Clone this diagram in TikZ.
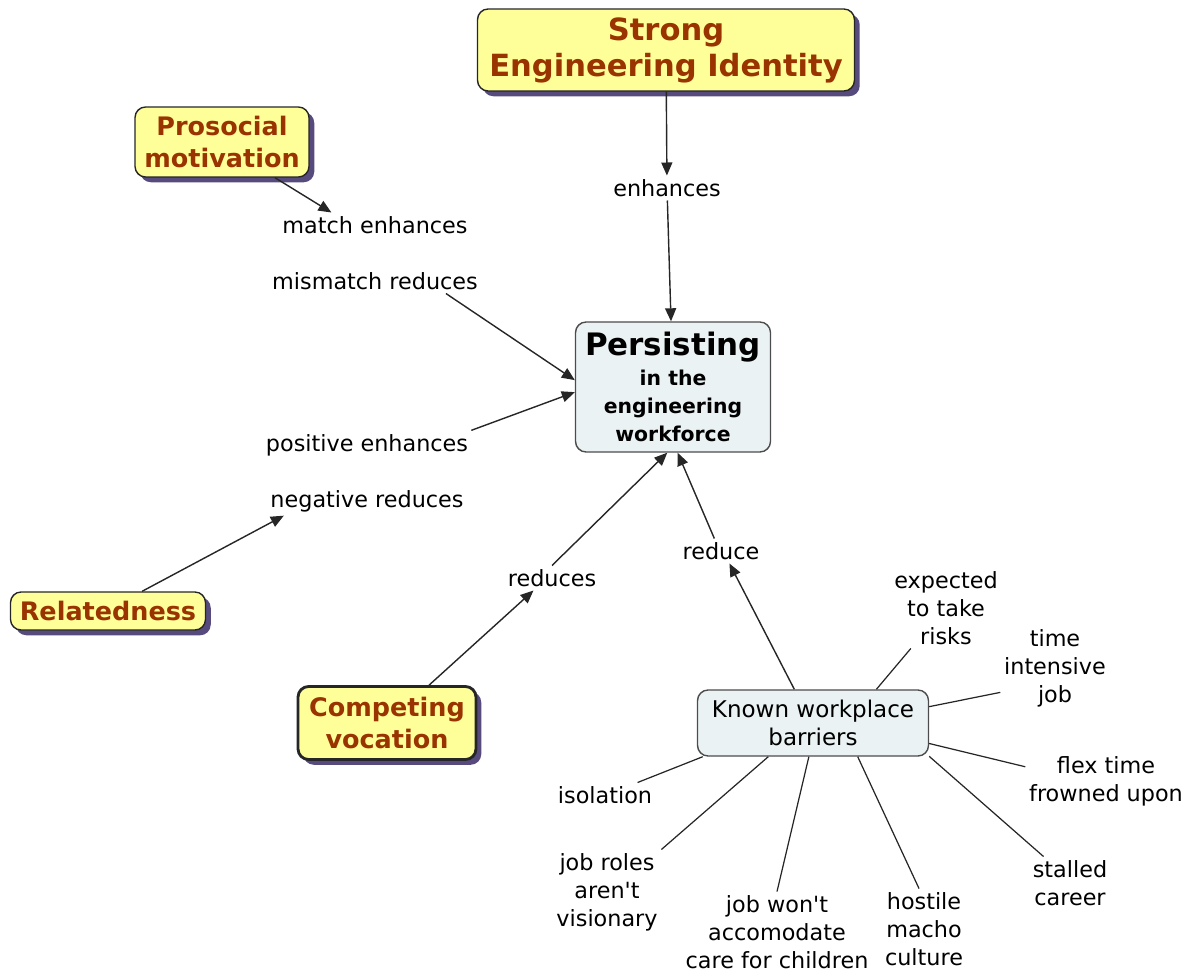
\documentclass[tikz,border=0pt]{standalone}
\usepackage{fontspec}
\setmainfont{DejaVu Sans}
\usetikzlibrary{arrows.meta,shadows}
\definecolor{cmyellow}{HTML}{FFFF99}
\definecolor{cmbrown}{HTML}{993300}
\definecolor{cmshade}{HTML}{574B7E}
\definecolor{cmblue}{HTML}{EAF2F4}

\begin{document}
\begin{tikzpicture}[x=0.02cm, y=-0.02cm,
  concept/.style={draw=black!85, rounded corners=6pt, fill=cmyellow, text=cmbrown, align=center, inner sep=0pt, line width=0.8pt,
    drop shadow={fill=cmshade, opacity=1, shadow xshift=3pt, shadow yshift=-3pt}, font=\fontsize{14.5}{18}\selectfont\bfseries},
  target/.style={draw=black!70, rounded corners=6pt, fill=cmblue, align=center, inner sep=0pt, line width=0.8pt},
  phrase/.style={align=center, inner sep=2pt, font=\fontsize{12.7}{15.9}\selectfont},
  arr/.style={-{Triangle[length=2.6mm,width=2.2mm]}, line width=0.8pt, black!85},
  link/.style={line width=0.7pt, black!85},
]
  \useasboundingbox (0,0) rectangle (1190,973);

  % concepts
  \node[concept, minimum width=7.54cm, minimum height=1.64cm, font=\fontsize{17.4}{20.5}\selectfont\bfseries] (identity) at (666,50) {Strong\\Engineering Identity};
  \node[concept, minimum width=3.48cm, minimum height=1.4cm] (prosocial) at (222,142) {Prosocial\\motivation};
  \node[concept, minimum width=3.9cm, minimum height=0.76cm] (related) at (108,611) {Relatedness};
  \node[concept, minimum width=3.56cm, minimum height=1.46cm, line width=1.6pt] (vocation) at (387,723) {Competing\\vocation};
  \node[target, minimum width=3.9cm, minimum height=2.6cm, font=\fontsize{11.6}{15.9}\selectfont\bfseries] (persist) at (673,387)
    {{\fontsize{17.6}{20}\selectfont Persisting}\\[1pt]in the\\engineering\\workforce};
  \node[target, minimum width=4.62cm, minimum height=1.32cm, font=\fontsize{13.1}{16}\selectfont] (barriers) at (813,723) {Known workplace\\barriers};

  % linking phrases
  \node[phrase] (enh) at (667,188) {enhances};
  \node[phrase] (match) at (375,225) {match enhances};
  \node[phrase] (mismatch) at (375,281) {mismatch reduces};
  \node[phrase] (positive) at (367,445) {positive enhances};
  \node[phrase] (negative) at (367,501) {negative reduces};
  \node[phrase] (reduces) at (552,578) {reduces};
  \node[phrase] (reduce) at (721,551) {reduce};

  % barriers
  \node[phrase] (risks) at (946,608) {expected\\to take\\risks};
  \node[phrase] (intensive) at (1055,668) {time\\intensive\\job};
  \node[phrase] (flex) at (1106,781) {flex time\\frowned upon};
  \node[phrase] (stalled) at (1070,883) {stalled\\career};
  \node[phrase] (macho) at (924,929) {hostile\\macho\\culture};
  \node[phrase] (children) at (777,932) {job won\textquotesingle t\\accomodate\\care for children};
  \node[phrase] (roles) at (607,892) {job roles\\aren\textquotesingle t\\visionary};
  \node[phrase] (isolation) at (605,795) {isolation};

  \draw[arr] (identity) -- (enh);
  \draw[arr] (enh) -- (persist);
  \draw[arr] (prosocial.-34) -- (match.164);
  \draw[arr] (mismatch.-10) -- (persist.176);
  \draw[arr] (positive.8) -- (persist.183);
  \draw[arr] (related.30) -- (negative.190);
  \draw[arr] (vocation.42) -- (reduces.214);
  \draw[arr] (reduces.north) -- (persist.265);
  \draw[arr] (barriers.119) -- (reduce.-56);
  \draw[arr] (reduce.118) -- (persist.-86);

  \draw[link] (barriers.28) -- (risks.229);
  \draw[link] (barriers.8) -- (intensive.204);
  \draw[link] (barriers.-10) -- (flex.170);
  \draw[link] (barriers.-16) -- (stalled.135);
  \draw[link] (barriers.-37) -- (macho.97);
  \draw[link] (barriers.263) -- (children.north);
  \draw[link] (barriers.217) -- (roles.38);
  \draw[link] (barriers.197) -- (isolation.21);
\end{tikzpicture}
\end{document}
